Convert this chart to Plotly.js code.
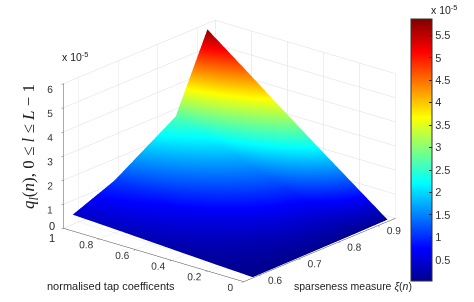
<!DOCTYPE html>
<html><head><meta charset="utf-8">
<script src="https://cdn.plot.ly/plotly-3.0.1.min.js"></script>
<style>html,body{margin:0;padding:0;background:#fff}#c{width:474px;height:302px}</style></head>
<body><div id="c"></div>
<script>
var sparseness = [0.585, 0.69, 0.845, 0.925];
var tapCoeff = [0, 0.2, 0.4, 0.6, 0.8, 1];
var qRow0 = [0.03, 0.04, 0.06, 0.08];
var qRow1 = [0.10, 0.24, 0.56, 1.20];
var qRow2 = [0.18, 0.46, 1.10, 2.32];
var qRow3 = [0.26, 0.68, 1.64, 3.46];
var qRow4 = [0.34, 0.90, 2.18, 4.62];
var qRow5 = [0.41, 1.10, 2.70, 5.76];
var zTicks = [0,1,2,3,4,5,6];
var zTickText = ['','1','2','3','4','5','6'];
var xTicks = [0.6,0.7,0.8,0.9];
var yTicks = [0,0.2,0.4,0.6,0.8,1];
var yTickText = ['0','0.2','0.4','0.6','0.8',''];
var cbTicks = [0.5,1,1.5,2,2.5,3,3.5,4,4.5,5,5.5];
var jet = [[0,'#00008f'],[0.125,'#0000ff'],[0.375,'#00ffff'],[0.625,'#ffff00'],[0.875,'#ff0000'],[1,'#800000']];
var tf = {family:'"Liberation Sans",Arial,sans-serif',size:11,color:'#333'};
function ax(extra){return Object.assign({showgrid:true,gridcolor:'#dcdcdc',gridwidth:1,showline:true,linecolor:'#444',linewidth:1,tickangle:0,
 zeroline:false,showbackground:false,showspikes:false,tickmode:'array',tickfont:tf,title:{text:''},ticks:'outside',ticklen:3,tickcolor:'#555'},extra);}
var trace = {type:'surface',x:sparseness,y:tapCoeff,z:[qRow0,qRow1,qRow2,qRow3,qRow4,qRow5],
 colorscale:jet,cmin:0.03,cmax:5.86,
 lighting:{ambient:1,diffuse:0,specular:0,fresnel:0,roughness:1},
 hoverinfo:'skip',
 colorbar:{x:411/474,xanchor:'left',xpad:0,ypad:0,y:(302-19)/302,yanchor:'top',len:262/302,lenmode:'fraction',thickness:21,thicknessmode:'pixels',
  tickmode:'array',tickvals:cbTicks,ticktext:cbTicks.map(String),ticks:'inside',ticklen:3,tickcolor:'#222',tickfont:{family:tf.family,size:11,color:'#333'},outlinecolor:'#333',outlinewidth:1,borderwidth:0}};
var e=1.9, s=1.56;
function note(x,y,text,size,fam,angle){return {xref:'paper',yref:'paper',x:x/474,y:1-y/302,xanchor:'center',yanchor:'middle',text:text,showarrow:false,textangle:angle||0,font:{family:fam||tf.family,size:size,color:'#222'}};}
var layout = {width:474,height:302,margin:{l:0,r:0,t:0,b:0},paper_bgcolor:'#fff',showlegend:false,
 scene:{domain:{x:[0,0.968],y:[0,1]},bgcolor:'#fff',
  aspectmode:'manual',aspectratio:{x:s,y:s,z:0.656*s},
  camera:{projection:{type:'orthographic'},up:{x:0,y:0,z:1},center:{x:0,y:0,z:0},eye:{x:-0.716*e,y:-0.603*e,z:0.352*e}},
  xaxis:ax({range:[0.562,0.945],tickvals:xTicks,ticktext:xTicks.map(String)}),
  yaxis:ax({range:[0,1],tickvals:yTicks,ticktext:yTickText}),
  zaxis:ax({range:[0,6],tickvals:zTicks,ticktext:zTickText,linecolor:'#aaa',linewidth:2})},
 annotations:[
  note(30,147,'<i>q<sub>l</sub></i>(<i>n</i>), 0 ≤ <i>l</i> ≤ <i>L</i> − 1',17,'"Liberation Serif",serif',-90),
  note(111,286,'normalised tap coefficents',11),
  note(353,286,'sparseness measure <i>ξ</i>(<i>n</i>)',10.5),
  note(75,56,'x 10<sup>-5</sup>',10.5),
  note(444,10,'x 10<sup>-5</sup>',10.5),
  note(52,226,'0',11),
  note(52,238,'1',11)
 ]};
Plotly.newPlot('c',[trace],layout,{displayModeBar:false});
</script></body></html>
